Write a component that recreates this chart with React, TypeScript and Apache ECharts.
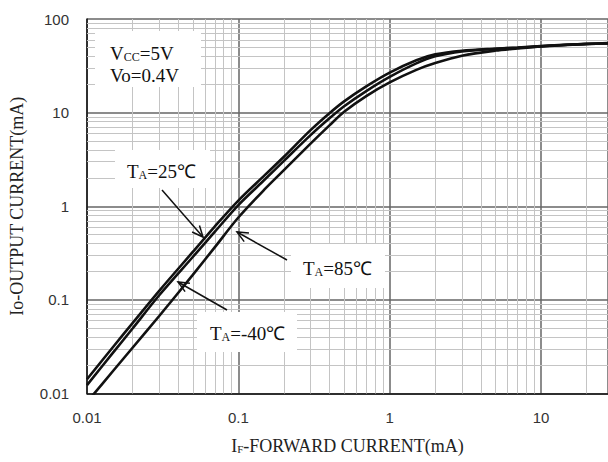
import React, { useEffect, useRef } from "react";
import * as echarts from "echarts";

// I_F forward current (mA)
const forwardCurrent = [0.01, 0.015, 0.02, 0.03, 0.05, 0.07, 0.1, 0.15, 0.2, 0.3, 0.4, 0.5, 0.7, 1, 1.5, 2, 3, 5, 7, 10, 15, 20, 28];
// Io output current (mA)
const outputTa25 = [0.0142, 0.032, 0.0565, 0.125, 0.325, 0.61, 1.15, 2.16, 3.38, 6.5, 9.86, 13.2, 19.1, 26.8, 36.3, 41.9, 45.8, 48.2, 49.5, 51.5, 53.2, 54.3, 55.5];
const outputTaM40 = [0.0123, 0.0278, 0.0495, 0.112, 0.287, 0.535, 1.03, 1.94, 3.05, 5.75, 8.7, 11.7, 17.0, 24.1, 33.6, 39.9, 45, 48, 49.3, 51, 52.8, 54, 55];
const outputTa85 = [0.0081, 0.0177, 0.0308, 0.0673, 0.185, 0.366, 0.758, 1.53, 2.43, 4.66, 7.3, 10.2, 15.0, 21.0, 28.6, 33.8, 40.5, 46, 48.5, 51, 53, 54, 55];

const xMin = 0.01;
const xMax = 27.7;
const yMin = 0.01;
const yMax = 100;
const xTickLabels = ["0.01", "0.1", "1", "10"];
const yTickLabels = ["0.01", "0.1", "1", "10", "100"];

function minorValues(loExp: number, hiExp: number, limit: number) {
  const out: number[] = [];
  for (let e = loExp; e < hiExp; e++) {
    for (let m = 2; m <= 9; m++) {
      const v = +(m * Math.pow(10, e)).toPrecision(3);
      if (v <= limit) out.push(v);
    }
  }
  return out;
}

const SERIF = "'Liberation Serif', 'Times New Roman', serif";
const SANS = "'Liberation Sans', Arial, sans-serif";

function arrow(x1: number, y1: number, x2: number, y2: number) {
  const dx = x2 - x1;
  const dy = y2 - y1;
  const L = Math.sqrt(dx * dx + dy * dy);
  const ux = dx / L;
  const uy = dy / L;
  const len = 12;
  const a = (24 * Math.PI) / 180;
  const rot = (ang: number) => [ux * Math.cos(ang) - uy * Math.sin(ang), ux * Math.sin(ang) + uy * Math.cos(ang)];
  const r1 = rot(a);
  const r2 = rot(-a);
  return [
    { type: "line", z: 20, shape: { x1, y1, x2, y2 }, style: { stroke: "#111", lineWidth: 1.5 } },
    {
      type: "polyline",
      z: 20,
      shape: { points: [[x2 - len * r1[0], y2 - len * r1[1]], [x2, y2], [x2 - len * r2[0], y2 - len * r2[1]]] },
      style: { stroke: "#111", lineWidth: 1.5, fill: null },
    },
  ];
}

const richSub = {
  n: { fontFamily: SERIF, fontSize: 19, lineHeight: 22, verticalAlign: "bottom", fill: "#111", color: "#111" },
  s: { fontFamily: SERIF, fontSize: 12, lineHeight: 10, verticalAlign: "bottom", fill: "#111", color: "#111" },
};

function label(text: string, x: number, y: number) {
  return { type: "text", z: 21, x, y, style: { text, rich: richSub, verticalAlign: "bottom", align: "left" } };
}

function box(x: number, y: number, w: number, h: number) {
  return { type: "rect", z: 10, shape: { x, y, width: w, height: h }, style: { fill: "#fff" } };
}

export default function App() {
  const ref = useRef<HTMLDivElement>(null);
  useEffect(() => {
    if (!ref.current) return;
    const chart = echarts.init(ref.current, undefined, { renderer: "svg" });
    const curve = (name: string, ys: number[]) => ({
      name,
      type: "line",
      data: forwardCurrent.map((x, i) => [x, ys[i]]),
      showSymbol: false,
      symbol: "none",
      smooth: 0.3,
      clip: true,
      z: 5,
      lineStyle: { color: "#111", width: 2.6 },
    });
    const minorLine = { color: "#c4c4c4", width: 1, type: "solid" };
    const gridData = [
      ...minorValues(-2, 2, xMax).map((v) => ({ xAxis: v })),
      ...minorValues(-2, 2, yMax).map((v) => ({ yAxis: v })),
    ];
    chart.setOption({
      animation: false,
      backgroundColor: "#fff",
      grid: { left: 86, top: 19, right: 0, bottom: 68.5, containLabel: false },
      xAxis: {
        type: "log",
        logBase: 10,
        min: xMin,
        max: xMax,
        name: "{n|I}{s|F}{n|-FORWARD CURRENT(mA)}",
        nameLocation: "middle",
        nameGap: 40,
        nameTextStyle: {
          rich: {
            n: { fontFamily: SERIF, fontSize: 18, color: "#222", verticalAlign: "bottom", lineHeight: 21 },
            s: { fontFamily: SERIF, fontSize: 11, color: "#222", verticalAlign: "bottom", lineHeight: 9 },
          },
        },
        axisLine: { show: true, lineStyle: { color: "#111", width: 1.5 } },
        axisTick: { show: false },
        axisLabel: {
          showMaxLabel: false,
          margin: 16,
          color: "#333",
          fontSize: 15,
          fontFamily: SANS,
          formatter: (v: number) => {
            const s = xTickLabels.find((t) => Math.abs(parseFloat(t) - v) / v < 1e-6);
            return s ?? "";
          },
        },
        splitLine: { show: true, lineStyle: { color: "#666", width: 1.5 } },
      },
      yAxis: {
        type: "log",
        logBase: 10,
        min: yMin,
        max: yMax,
        name: "Io-OUTPUT CURRENT(mA)",
        nameLocation: "middle",
        nameGap: 61,
        nameTextStyle: { fontFamily: SERIF, fontSize: 18, color: "#222" },
        axisLine: { show: true, lineStyle: { color: "#111", width: 1.5 } },
        axisTick: { show: false },
        axisLabel: {
          margin: 18,
          color: "#333",
          fontSize: 15,
          fontFamily: SANS,
          formatter: (v: number) => {
            const s = yTickLabels.find((t) => Math.abs(parseFloat(t) - v) / v < 1e-6);
            return s ?? "";
          },
        },
        splitLine: { show: true, lineStyle: { color: "#666", width: 1.5 } },
      },
      series: [
        {
          name: "grid",
          type: "line",
          data: [],
          z: 1,
          silent: true,
          markLine: {
            silent: true,
            symbol: "none",
            label: { show: false },
            lineStyle: minorLine,
            emphasis: { disabled: true },
            data: gridData,
          },
        },
        curve("TA=25℃", outputTa25),
        curve("TA=-40℃", outputTaM40),
        curve("TA=85℃", outputTa85),
      ],
      graphic: [
        box(95, 31, 106, 56),
        label("{n|V}{s|CC}{n|=5V}", 110, 63),
        label("{n|Vo=0.4V}", 110, 85),
        box(115, 150, 95, 38),
        label("{n|T}{s|A}{n|=25℃}", 127, 181),
        box(291, 244, 94, 44),
        label("{n|T}{s|A}{n|=85℃}", 303, 278),
        box(197, 312, 100, 40),
        label("{n|T}{s|A}{n|=-40℃}", 210, 343),
        ...arrow(162, 190, 203, 237),
        ...arrow(287, 260, 237, 232),
        ...arrow(227, 310, 178, 282),
      ],
    });
    return () => chart.dispose();
  }, []);
  return <div ref={ref} style={{ position: "absolute", left: 0, top: 0, width: 608, height: 462, background: "#fff" }} />;
}
